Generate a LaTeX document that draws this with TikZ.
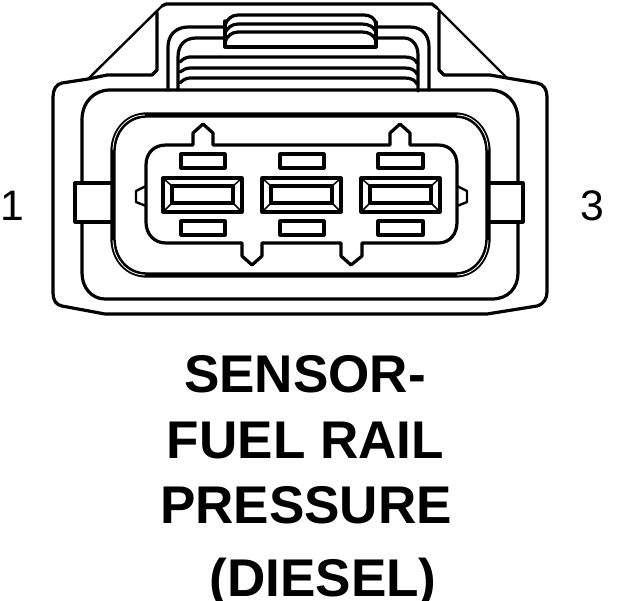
\documentclass[tikz,border=0pt]{standalone}
\usepackage{fontspec}
\setmainfont{Liberation Sans}
\tikzset{
  px/.style={x=0.75pt,y=-0.75pt},
  ln/.style={draw=black,line width=2.4pt,line join=round,line cap=round},
  fineln/.style={draw=black,line width=1.8pt,line join=round},
  hair/.style={draw=black,line width=1.1pt,line join=round},
  heavy/.style={draw=black,line width=4pt,line cap=butt},
  slit/.style={draw=white,line width=0.6pt},
  caption/.style={font=\bfseries\fontsize{39.8}{40}\selectfont,anchor=base,inner sep=0pt},
  pinlabel/.style={font=\fontsize{32}{32}\selectfont,anchor=base,inner sep=0pt}
}
\newcommand{\pinbox}[1]{%
  \begin{scope}[shift={(#1,0)}]
    \draw[ln] (0,178) rectangle (79,212);
    \draw[ln] (9,186) rectangle (70,203);
    \draw[hair] (1,179) -- (9,186) (78,179) -- (70,186) (1,211) -- (9,203) (78,211) -- (70,203);
  \end{scope}}
\begin{document}
\begin{tikzpicture}[px]
\useasboundingbox (0,0) rectangle (624,600);
% outer shell
\draw[fineln] (88,79) -- (162,6);
\draw[fineln] (437,8) -- (507,78);
\draw[ln] (157,12) -- (157,70) -- (152,75) -- (107,75) -- (88,79) -- (62,83)
  .. controls (56,84) and (53,90) .. (53,97) -- (53,293)
  .. controls (53,300) and (56,305) .. (62,306) -- (105,314) -- (487,314) -- (537,306)
  .. controls (544,304) and (547,298) .. (547,292) -- (547,97)
  .. controls (547,90) and (544,84) .. (537,83) -- (507,78) -- (490,75) -- (444,75) -- (439,70) -- (439,12);
\draw[ln] (162,6) -- (166,4) -- (432,4) -- (437,8);
% inner outline
\draw[ln] (82,273) -- (82,120) .. controls (82,102) and (94,90) .. (110,90) -- (490,90)
  .. controls (506,90) and (518,102) .. (518,120) -- (518,273)
  .. controls (518,288) and (508,299) .. (492,299) -- (105,299)
  .. controls (92,299) and (82,288) .. (82,273);
% side tabs
\draw[ln,fill=white] (112,183) -- (75,183) -- (75,222) -- (112,222);
\draw[ln,fill=white] (488,183) -- (523,183) -- (523,222) -- (488,222);
% heavy ring
\draw[heavy] (113,238) -- (113,152) .. controls (113,131) and (127,115) .. (147,115) -- (455,115)
  .. controls (474,115) and (488,131) .. (488,152) -- (488,238)
  .. controls (488,259) and (474,275) .. (455,275) -- (147,275)
  .. controls (127,275) and (113,259) .. (113,238);
\draw[slit] (113,150) .. controls (113,131) and (127,115) .. (145,115);
\draw[slit] (457,115) .. controls (474,115) and (488,131) .. (488,150);
\draw[slit] (488,240) .. controls (488,259) and (474,275) .. (457,275);
\draw[slit] (145,275) .. controls (127,275) and (113,259) .. (113,240);
% top lid arches
\draw[ln] (168,90) -- (168,47) .. controls (168,35) and (176,27) .. (188,27) -- (225,27);
\draw[ln] (178,90) -- (178,57) .. controls (178,45) and (185,38) .. (196,38) -- (225,38);
\draw[ln] (376,27) -- (410,27) .. controls (422,27) and (429,35) .. (429,47) -- (429,90);
\draw[ln] (376,38) -- (404,38) .. controls (412,38) and (418,45) .. (418,55) -- (418,91);
% centre tab
\draw[ln] (225,21) -- (225,47) -- (376,47) -- (376,22);
\draw[ln] (225,25) .. controls (227,19) and (232,15) .. (238,15) -- (364,15) .. controls (370,15) and (375,18) .. (376,24);
\draw[ln] (225,33) .. controls (227,28) and (232,24) .. (238,24) -- (362,24) .. controls (369,24) and (374,27) .. (376,32);
\draw[ln] (225,42) .. controls (227,36) and (232,32) .. (238,32) -- (362,32) .. controls (369,32) and (374,35) .. (376,41);
% ribs
\draw[ln] (180,62) .. controls (183,59) and (186,57) .. (190,57) -- (405,57) .. controls (411,57) and (415,59) .. (417,63);
\draw[ln] (180,72) .. controls (183,70) and (186,68) .. (190,68) -- (405,68) .. controls (411,68) and (415,70) .. (417,74);
\draw[ln] (180,83) .. controls (183,80) and (186,78) .. (190,78) -- (405,78) .. controls (411,78) and (415,80) .. (417,84);
% housing
\draw[ln] (146,186) -- (146,165) .. controls (146,153) and (154,145) .. (166,145)
  -- (193,145) -- (193,133) -- (203,124) -- (213,133) -- (213,145)
  -- (390,145) -- (390,133) -- (400,124) -- (410,133) -- (410,145)
  -- (438,145) .. controls (450,145) and (457,153) .. (457,165) -- (457,222)
  .. controls (457,234) and (450,243) .. (438,243)
  -- (362,243) -- (362,256) -- (351,265) -- (341,256) -- (341,243)
  -- (262,243) -- (262,256) -- (252,265) -- (242,256) -- (242,243)
  -- (166,243) .. controls (154,243) and (146,234) .. (146,222) -- cycle;
\draw[fineln] (146,186) -- (136,191) -- (136,202) -- (146,206);
\draw[fineln] (457,186) -- (467,191) -- (467,202) -- (457,206);
% small windows
\foreach \xa/\xb in {181/225,280/324,378/423}{
  \draw[ln] (\xa,154) rectangle (\xb,168);
  \draw[ln] (\xa,221) rectangle (\xb,235);
}
\pinbox{163}\pinbox{262}\pinbox{361}
% labels
\node[pinlabel] (one) at (12.5,220) {1};
\node[pinlabel] (three) at (592,220) {3};
\node[caption] (l1) at (305,392) {SENSOR-};
\node[caption] (l2) at (305.5,458) {FUEL RAIL};
\node[caption] (l3) at (306,523) {PRESSURE};
\node[caption] (l4) at (323,596) {(DIESEL)};
\end{tikzpicture}
\end{document}
